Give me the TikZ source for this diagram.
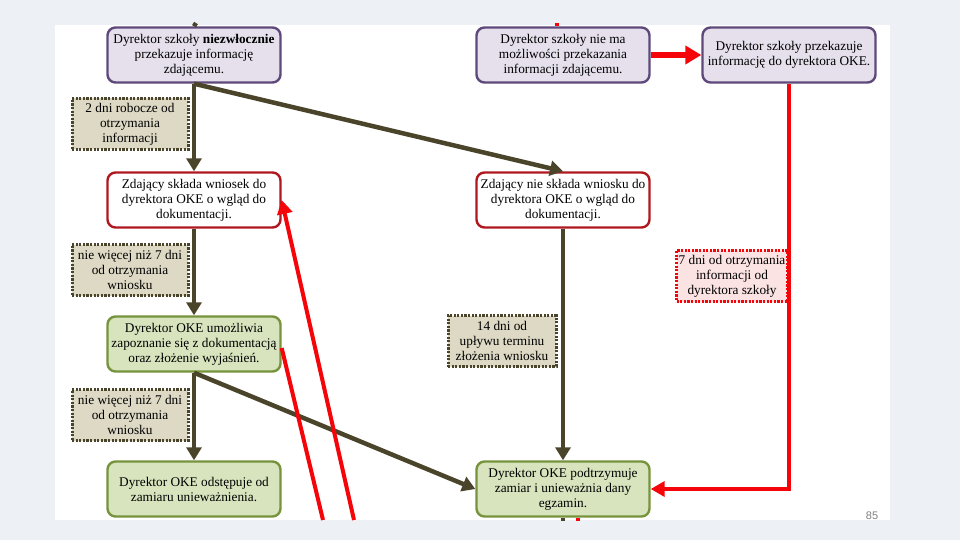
\documentclass[tikz,border=0pt]{standalone}
\usepackage{fontspec}
\setmainfont{Liberation Serif}
\newfontfamily\pagefont{Liberation Sans}
\usetikzlibrary{arrows.meta,calc,positioning}

\definecolor{slidebg}{HTML}{EDF1F5}
\definecolor{lilacfill}{HTML}{E5E0EC}
\definecolor{lilacline}{HTML}{5F497A}
\definecolor{wineline}{HTML}{B01820}
\definecolor{sagefill}{HTML}{D7E4BD}
\definecolor{sageline}{HTML}{77933C}
\definecolor{tanfill}{HTML}{DDD9C4}
\definecolor{olive}{HTML}{4A452A}
\definecolor{pinkfill}{HTML}{FBE3E3}
\definecolor{alarm}{HTML}{F5050A}

\begin{document}
\begin{tikzpicture}[x=1pt,y=-1pt,
  every node/.style={align=center,inner sep=0pt,font=\fontsize{13.3}{15}\selectfont},
  stepbox/.style={draw,rounded corners=8pt,line width=2.4pt,minimum width=173pt,minimum height=55pt},
  school/.style={stepbox,fill=lilacfill,draw=lilacline},
  pupil/.style={stepbox,fill=white,draw=wineline},
  oke/.style={stepbox,fill=sagefill,draw=sageline},
  term/.style={draw=olive,fill=tanfill,line width=3pt,dash pattern=on 2.2pt off 1.4pt,minimum width=116pt,minimum height=51pt},
  alarmterm/.style={term,draw=alarm,fill=pinkfill,minimum width=111pt},
  flow/.style={draw=olive,line width=4.5pt,-{Triangle[length=13pt,width=15pt]}},
  redflow/.style={draw=alarm,line width=4pt,-{Triangle[length=14pt,width=15pt]}}]

  % slide
  \fill[slidebg] (0,0) rectangle (960,540);
  \fill[white] (55,25) rectangle (890,520);
  \useasboundingbox (0,0) rectangle (960,540);

  % boxes
  \node[school] (inform) at (194,55) {Dyrektor szkoły \textbf{niezwłocznie}\\przekazuje informację\\zdającemu.};
  \node[school] (noinform) at (563,55) {Dyrektor szkoły nie ma\\możliwości przekazania\\informacji zdającemu.};
  \node[school] (tooke) at (789,55) {Dyrektor szkoły przekazuje\\informację do dyrektora OKE.};
  \node[pupil] (request) at (194,200) {Zdający składa wniosek do\\dyrektora OKE o wgląd do\\dokumentacji.};
  \node[pupil] (norequest) at (563,200) {Zdający nie składa wniosku do\\dyrektora OKE o wgląd do\\dokumentacji.};
  \node[oke] (access) at (194,344) {Dyrektor OKE umożliwia\\zapoznanie się z dokumentacją\\oraz złożenie wyjaśnień.};
  \node[oke] (withdraw) at (194,489) {Dyrektor OKE odstępuje od\\zamiaru unieważnienia.};
  \node[oke] (annul) at (563,489) {Dyrektor OKE podtrzymuje\\zamiar i unieważnia dany\\egzamin.};

  % deadlines
  \node[term] (t1) at (130,124) {2 dni robocze od\\otrzymania\\informacji};
  \node[term] (t2) at (130,270) {nie więcej niż 7 dni\\od otrzymania\\wniosku};
  \node[term] (t3) at (130,415) {nie więcej niż 7 dni\\od otrzymania\\wniosku};
  \node[term,minimum width=108pt] (t4) at (502,341) {14 dni od\\upływu terminu\\złożenia wniosku};
  \node[alarmterm] (t5) at (732,276) {7 dni od otrzymania\\informacji od\\dyrektora szkoły};

  % free ends
  \coordinate (topin) at (196,23);
  \coordinate (topred) at (557,23);
  \coordinate (redlow1) at (354,520);
  \coordinate (redlow2) at (323,520);
  \coordinate (botred) at (578,521);
  \coordinate (botdark) at (563,521);

  % connectors
  \draw[olive,line width=4.5pt] (topin) -- (inform.north);
  \draw[alarm,line width=4.5pt] (topred) -- ($(noinform.north)+(-6,0)$);
  \draw[flow] (inform.south) -- (request.north);
  \draw[flow] (inform.south) -- (norequest.north);
  \draw[flow] (request.south) -- (access.north);
  \draw[flow] (access.south) -- (withdraw.north);
  \draw[flow] (access.south) -- (annul.west);
  \draw[flow] (norequest.south) -- (annul.north);
  \draw[olive,line width=4.5pt] (annul.south) -- (botdark);
  \draw[alarm,line width=4pt] ($(annul.south)+(15,0)$) -- (botred);
  \draw[redflow,line width=6pt,-{Triangle[length=16pt,width=18pt]}] (noinform) -- (tooke);
  \draw[redflow,line width=4pt] (tooke.south) |- (annul.east);
  \draw[redflow] (redlow1) -- (request.east);
  \draw[alarm,line width=4pt] ($(access.east)+(0,4)$) -- (redlow2);

  \node[font=\pagefont\fontsize{11}{11}\selectfont,text=gray] (page) at (872,516) {85};
\end{tikzpicture}
\end{document}
